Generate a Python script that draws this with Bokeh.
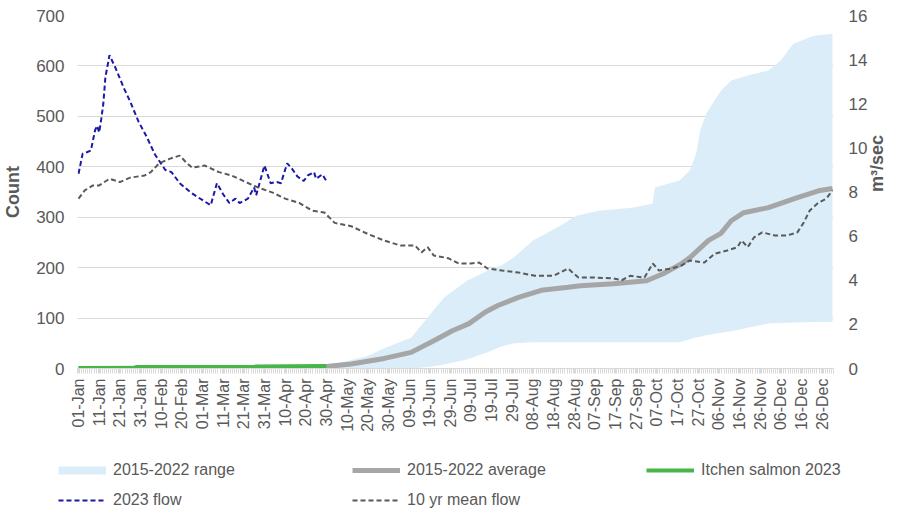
import math
from bokeh.plotting import figure
from bokeh.models import Range1d, LinearAxis, FixedTicker, Legend, LegendItem
from bokeh.embed import file_html
from bokeh.resources import INLINE

# ---------------- data ----------------
tick_labels = ["01-Jan", "11-Jan", "21-Jan", "31-Jan", "10-Feb", "20-Feb", "01-Mar", "11-Mar",
               "21-Mar", "31-Mar", "10-Apr", "20-Apr", "30-Apr", "10-May", "20-May", "30-May",
               "09-Jun", "19-Jun", "29-Jun", "09-Jul", "19-Jul", "29-Jul", "08-Aug", "18-Aug",
               "28-Aug", "07-Sep", "17-Sep", "27-Sep", "07-Oct", "17-Oct", "27-Oct", "06-Nov",
               "16-Nov", "26-Nov", "06-Dec", "16-Dec", "26-Dec"]
n_days = 366
label_step = 10

# 2015-2022 range (Count)
band_days = [100, 110, 120, 130, 140, 148, 161, 169, 177, 188, 198, 205, 211, 220, 232, 241,
             252, 268, 278, 279, 291, 296, 299, 301, 304, 311, 316, 324, 334, 340, 346, 356, 365]
band_low = [0, 0, 0, 0, 0, 0, 0, 3, 8, 18, 32, 44, 50, 52, 52, 52,
            52, 52, 52, 52, 52, 58, 62, 63, 66, 71, 74, 81, 89, 90, 91, 92, 92]
band_high = [2, 4, 6, 15, 25, 40, 61, 101, 141, 174, 194, 205, 221, 254, 280, 303,
             313, 319, 327, 359, 373, 393, 426, 472, 506, 551, 571, 581, 591, 611, 644, 660, 664]

# 2015-2022 average (Count)
avg_days = [0, 60, 100, 108, 120, 132, 148, 161, 172, 181, 189, 197, 203, 213, 224, 237, 243,
            259, 275, 283, 292, 296, 305, 311, 316, 322, 334, 348, 359, 365]
avg_vals = [0, 1, 2, 2, 4, 9, 20, 32, 55, 75, 89, 112, 125, 141, 155, 161, 164,
            168, 174, 188, 208, 220, 254, 268, 293, 309, 319, 339, 353, 357]

# Itchen salmon 2023 (Count)
salmon_days = [0, 27, 28, 85, 86, 120]
salmon_vals = [1, 1, 3, 3, 4, 5]

# 2023 flow (m3/sec)
flow23_days = [0, 2, 4, 6, 8, 9, 10, 11, 12, 13, 15, 18, 22, 25, 29, 33, 37, 42, 45, 49, 54,
               58, 64, 67, 70, 73, 76, 78, 82, 85, 86, 90, 93, 96, 98, 101, 103, 106, 109, 111,
               114, 115, 118, 120]
flow23_vals = [8.83, 9.74, 9.8, 9.88, 10.8, 11.0, 10.7, 11.3, 12.0, 13.2, 14.2, 13.6, 12.7,
               12.1, 11.2, 10.5, 9.7, 9.0, 8.9, 8.4, 8.0, 7.75, 7.4, 8.4, 7.9, 7.5, 7.7, 7.5,
               7.7, 8.2, 7.85, 9.2, 8.4, 8.45, 8.4, 9.3, 9.1, 8.7, 8.5, 8.75, 8.9, 8.6, 8.8, 8.5]

# 10 yr mean flow (m3/sec)
mean_days = [0, 3, 7, 10, 15, 20, 25, 32, 35, 39, 44, 49, 52, 55, 61, 68, 74, 81, 87, 94, 100,
             107, 113, 119, 124, 132, 140, 148, 156, 163, 166, 169, 172, 179, 184, 190, 194,
             198, 205, 213, 221, 230, 237, 242, 250, 259, 263, 267, 274, 278, 281, 287, 292,
             296, 303, 308, 314, 319, 321, 324, 327, 331, 337, 343, 348, 351, 354, 358, 362, 365]
mean_vals = [7.7, 8.07, 8.3, 8.3, 8.6, 8.45, 8.65, 8.75, 8.9, 9.3, 9.5, 9.65, 9.35, 9.1, 9.2,
             8.9, 8.75, 8.45, 8.2, 7.97, 7.7, 7.5, 7.16, 7.07, 6.6, 6.45, 6.1, 5.8, 5.57, 5.57,
             5.26, 5.5, 5.12, 5.0, 4.76, 4.76, 4.8, 4.53, 4.44, 4.35, 4.2, 4.2, 4.53, 4.12,
             4.12, 4.08, 4.0, 4.2, 4.12, 4.76, 4.44, 4.53, 4.67, 4.9, 4.8, 5.2, 5.35, 5.5, 5.8,
             5.5, 5.94, 6.17, 6.03, 6.03, 6.17, 6.6, 7.16, 7.5, 7.7, 8.07]

count_ticks = [0, 100, 200, 300, 400, 500, 600, 700]
flow_ticks = [0, 2, 4, 6, 8, 10, 12, 14, 16]

# ---------------- styling ----------------
FONT = "Liberation Sans"
TXT = "#595959"
GRID = "#D9D9D9"
BAND = "#DAEDF8"
AVG = "#A6A6A6"
GREEN = "#47B649"
BLUE = "#1A1AA6"
DARK = "#595959"
DASH = "5 3"

p = figure(width=902, height=445, output_backend="svg", toolbar_location=None,
           x_range=Range1d(-0.5, n_days - 0.5),
           y_range=Range1d(count_ticks[0], count_ticks[-1]),
           min_border_left=75, min_border_right=69, min_border_top=15, min_border_bottom=77)
p.outline_line_color = None
p.background_fill_color = "white"
p.border_fill_color = "white"
p.extra_y_ranges = {"flow": Range1d(flow_ticks[0], flow_ticks[-1])}

# x axis
xax = p.xaxis[0]
xax.ticker = FixedTicker(ticks=[i * label_step for i in range(len(tick_labels))],
                         minor_ticks=[i - 0.5 for i in range(n_days + 1)])
xax.major_label_overrides = {i * label_step: lab for i, lab in enumerate(tick_labels)}
xax.major_label_orientation = math.pi / 2
xax.major_label_text_font = FONT
xax.major_label_text_font_size = "16px"
xax.major_label_text_color = TXT
xax.axis_line_color = GRID
xax.major_tick_line_color = GRID
xax.minor_tick_line_color = GRID
xax.major_tick_out = 5
xax.major_tick_in = 0
xax.minor_tick_out = 5
xax.minor_tick_in = 0
xax.major_label_standoff = 5

# left axis
yax = p.yaxis[0]
yt = FixedTicker(ticks=count_ticks)
yax.ticker = yt
p.ygrid.ticker = yt
p.ygrid.grid_line_color = GRID
p.xgrid.visible = False
yax.axis_label = "Count"
yax.axis_label_text_font = FONT
yax.axis_label_text_font_style = "bold"
yax.axis_label_text_font_size = "18px"
yax.axis_label_text_color = TXT
yax.axis_label_standoff = 10
yax.major_label_text_font = FONT
yax.major_label_text_font_size = "17px"
yax.major_label_text_color = TXT
yax.major_label_standoff = 13
yax.axis_line_color = None
yax.major_tick_line_color = None
yax.minor_tick_line_color = None
yax.major_tick_out = 0
yax.major_tick_in = 0
yax.minor_tick_out = 0
yax.minor_tick_in = 0

# right axis
rax = LinearAxis(y_range_name="flow", ticker=FixedTicker(ticks=flow_ticks))
rax.axis_label = "m³/sec"
rax.axis_label_text_font = FONT
rax.axis_label_text_font_style = "bold"
rax.axis_label_text_font_size = "18px"
rax.axis_label_text_color = TXT
rax.axis_label_standoff = 7
rax.major_label_text_font = FONT
rax.major_label_text_font_size = "17px"
rax.major_label_text_color = TXT
rax.major_label_standoff = 15
rax.axis_line_color = None
rax.major_tick_line_color = None
rax.minor_tick_line_color = None
rax.major_tick_out = 0
rax.major_tick_in = 0
rax.minor_tick_out = 0
rax.minor_tick_in = 0
try:
    rax.axis_label_orientation = math.pi / 2
except Exception:
    pass
p.add_layout(rax, "right")

# ---------------- renderers ----------------
p.varea(x=band_days, y1=band_low, y2=band_high, fill_color=BAND, fill_alpha=1)
p.line(avg_days, avg_vals, line_width=5, line_color=AVG)
p.line(salmon_days, salmon_vals, line_width=4, line_color=GREEN)
p.line(flow23_days, flow23_vals, y_range_name="flow", line_width=2,
       line_color=BLUE, line_dash=DASH)
p.line(mean_days, mean_vals, y_range_name="flow", line_width=2,
       line_color=DARK, line_dash=DASH)

# ---------------- legend strip (separate root, keys drawn off-frame) ----------------
lf = figure(width=902, height=66, output_backend="svg", toolbar_location=None,
            x_axis_type=None, y_axis_type=None,
            x_range=Range1d(-3, -2), y_range=Range1d(-3, -2),
            min_border_left=0, min_border_right=0, min_border_top=0, min_border_bottom=0)
lf.outline_line_color = None
lf.background_fill_color = "white"
lf.border_fill_color = "white"
lf.grid.visible = False
lg_band = lf.line(band_days, band_high, line_width=8, line_color=BAND)
lg_avg = lf.line(avg_days, avg_vals, line_width=5, line_color=AVG)
lg_salmon = lf.line(salmon_days, salmon_vals, line_width=4, line_color=GREEN)
lg_flow = lf.line(flow23_days, flow23_vals, line_width=2, line_color=BLUE, line_dash=DASH)
lg_mean = lf.line(mean_days, mean_vals, line_width=2, line_color=DARK, line_dash=DASH)

legend = Legend(items=[
    LegendItem(label="2015-2022 range", renderers=[lg_band]),
    LegendItem(label="2015-2022 average", renderers=[lg_avg]),
    LegendItem(label="Itchen salmon 2023", renderers=[lg_salmon]),
    LegendItem(label="2023 flow", renderers=[lg_flow]),
    LegendItem(label="10 yr mean flow", renderers=[lg_mean]),
], ncols=3, orientation="horizontal", location=(58, 1))
legend.label_text_font = FONT
legend.label_text_font_size = "16px"
legend.label_text_color = TXT
legend.glyph_width = 48
legend.glyph_height = 20
legend.label_height = 20
legend.label_width = 229
legend.label_standoff = 7
legend.spacing = 10
legend.padding = 0
legend.margin = 0
legend.border_line_color = None
legend.background_fill_alpha = 0
lf.add_layout(legend, "center")

open("out.html", "w").write(file_html([p, lf], INLINE))
